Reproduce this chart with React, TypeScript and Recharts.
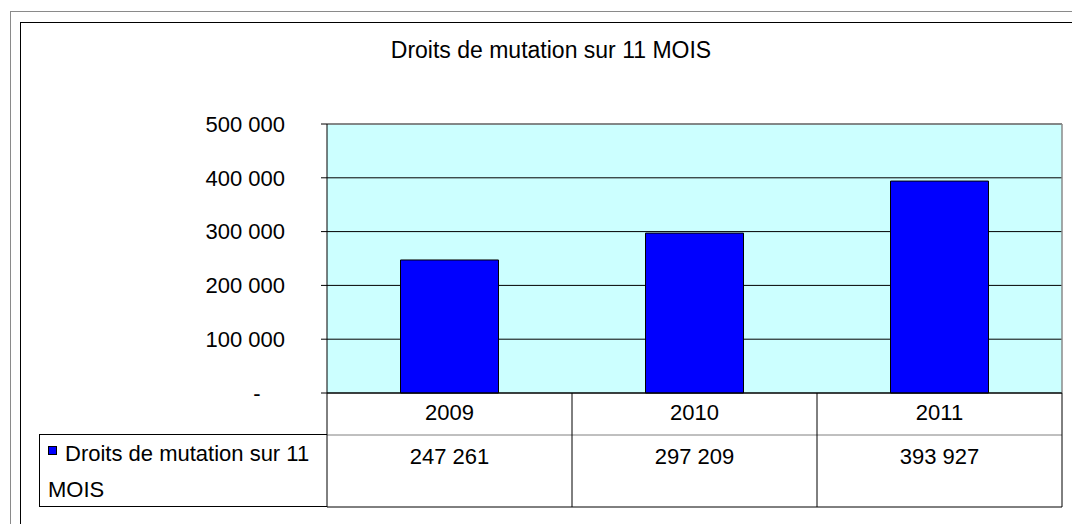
import React from 'react';
import { BarChart, Bar, XAxis, YAxis, CartesianGrid, Legend, ReferenceLine } from 'recharts';

const title = 'Droits de mutation sur 11 MOIS';
const seriesName = 'Droits de mutation sur 11 MOIS';
const categories = ['2009', '2010', '2011'];
const seriesValues = [247261, 297209, 393927];
const yTicks = [0, 100000, 200000, 300000, 400000, 500000];

const data = categories.map((c, i) => ({ year: c, value: seriesValues[i] }));

const W = 1072;
const H = 524;
const MARGIN = { top: 124, right: 10, bottom: 17, left: 227 };
const YAXIS_W = 100;
const YEAR_ROW_H = 42;
const VALUE_ROW_H = 72;
const PLOT_W = W - MARGIN.left - YAXIS_W - MARGIN.right;
const BAND = PLOT_W / categories.length;
const FONT = '"Liberation Sans", Arial, sans-serif';
const FS = 22;

const fmt = (v: number) => (v === 0 ? '-' : String(v).replace(/\B(?=(\d{3})+(?!\d))/g, ' '));

const YTick = (props: any) => {
  const { x, y, payload } = props;
  const v = payload.value;
  if (v === 0) {
    return (
      <text x={x - 28} y={y} dy="0.355em" textAnchor="middle" fontFamily={FONT} fontSize={FS} fill="#000">
        -
      </text>
    );
  }
  return (
    <text x={x} y={y} dy="0.355em" textAnchor="end" fontFamily={FONT} fontSize={FS} fill="#000">
      {fmt(v)}
    </text>
  );
};

const YearTick = (props: any) => {
  const { x, y, payload, index } = props;
  const last = index === categories.length - 1;
  return (
    <g>
      <line x1={x - BAND / 2} x2={x - BAND / 2} y1={y} y2={y + YEAR_ROW_H} stroke="#000" />
      {last && <line x1={x + BAND / 2} x2={x + BAND / 2} y1={y} y2={y + YEAR_ROW_H} stroke="#000" />}
      <text x={x} y={y + 19} dy="0.355em" textAnchor="middle" fontFamily={FONT} fontSize={FS} fill="#000">
        {payload.value}
      </text>
    </g>
  );
};

const ValueTick = (props: any) => {
  const { x, y, payload, index } = props;
  const last = index === categories.length - 1;
  const i = categories.indexOf(payload.value);
  return (
    <g>
      <line x1={x - BAND / 2} x2={x - BAND / 2} y1={y} y2={y + VALUE_ROW_H} stroke="#000" />
      {last && <line x1={x + BAND / 2} x2={x + BAND / 2} y1={y} y2={y + VALUE_ROW_H} stroke="#000" />}
      <line x1={x - BAND / 2} x2={x + BAND / 2} y1={y + VALUE_ROW_H} y2={y + VALUE_ROW_H} stroke="#000" />
      <text x={x} y={y + 21} dy="0.355em" textAnchor="middle" fontFamily={FONT} fontSize={FS} fill="#000">
        {fmt(seriesValues[i])}
      </text>
    </g>
  );
};

const LegendContent = (props: any) => {
  const item = (props.payload && props.payload[0]) || { value: seriesName, color: '#0000FF' };
  return (
    <div
      style={{
        position: 'relative',
        width: '100%',
        height: '100%',
        boxSizing: 'border-box',
        border: '1px solid #000',
        borderRight: 'none',
        fontFamily: FONT,
        fontSize: FS,
        lineHeight: '36px',
        color: '#000',
        paddingLeft: 8,
        paddingTop: 1,
        textAlign: 'left',
      }}
    >
      <span
        style={{
          position: 'absolute',
          left: 8,
          top: 11,
          width: 9,
          height: 9,
          background: '#0000FF',
          border: '1px solid #000',
          boxSizing: 'border-box',
        }}
      />
      <div style={{ textIndent: 17 }}>{item.value}</div>
    </div>
  );
};

export default function App() {
  return (
    <div style={{ position: 'absolute', left: 0, top: 0, width: W, height: H, overflow: 'hidden', background: '#fff' }}>
      <div style={{ position: 'absolute', left: 10, top: 11, width: 2000, height: 2000, border: '1px solid #8a8a8a' }} />
      <div style={{ position: 'absolute', left: 20, top: 22, width: 2000, height: 2000, border: '1px solid #000' }} />
      <div
        style={{
          position: 'absolute',
          left: 20,
          top: 39,
          width: 1062,
          textAlign: 'center',
          fontFamily: FONT,
          fontSize: 23,
          lineHeight: '23px',
          color: '#000',
        }}
      >
        {title}
      </div>
      <div style={{ position: 'absolute', left: 0, top: 0 }}>
        <BarChart width={W} height={H} data={data} margin={MARGIN} barCategoryGap="30%">
          <CartesianGrid vertical={false} fill="#CCFFFF" fillOpacity={1} stroke="#000" />
          <XAxis
            dataKey="year"
            height={YEAR_ROW_H}
            tickLine={false}
            tickSize={0}
            tickMargin={0}
            axisLine={{ stroke: '#000' }}
            tick={YearTick}
            interval={0}
          />
          <XAxis
            xAxisId="vals"
            dataKey="year"
            height={VALUE_ROW_H}
            tickLine={false}
            tickSize={0}
            tickMargin={0}
            axisLine={{ stroke: '#808080' }}
            tick={ValueTick}
            interval={0}
          />
          <YAxis
            width={YAXIS_W}
            domain={[0, 500000]}
            ticks={yTicks}
            tickSize={6}
            tickMargin={36}
            axisLine={{ stroke: '#000' }}
            tickLine={{ stroke: '#000' }}
            tick={YTick}
            interval={0}
          />
          <ReferenceLine y={500000} stroke="#8a8a8a" strokeWidth={1.5} />
          <ReferenceLine x="2011" position="end" stroke="#8a8a8a" strokeWidth={1.5} />
          <Bar dataKey="value" name={seriesName} fill="#0000FF" stroke="#000" strokeWidth={1} isAnimationActive={false} />
          <Legend
            layout="horizontal"
            verticalAlign="middle"
            align="center"
            content={LegendContent}
            wrapperStyle={{ position: 'absolute', left: 39, top: 434, width: 288, height: 73, margin: 0 }}
          />
        </BarChart>
      </div>
    </div>
  );
}
